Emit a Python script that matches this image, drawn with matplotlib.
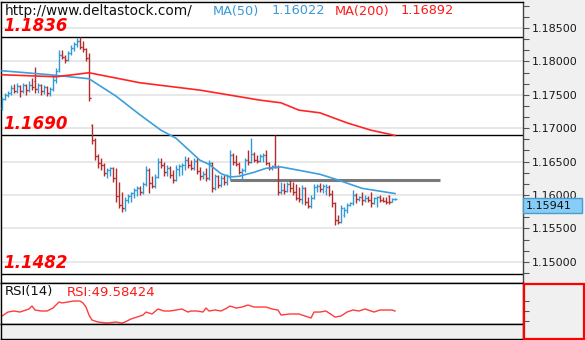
import numpy as np
import matplotlib
matplotlib.use("Agg")
import matplotlib.pyplot as plt
from matplotlib.ticker import MultipleLocator, FormatStrFormatter, FixedLocator, NullLocator
from matplotlib.transforms import blended_transform_factory
from matplotlib.patches import Rectangle

plt.rcParams['font.family'] = ['DejaVu Sans']

# EUR/USD daily bars: open / high / low / close
opens = [1.1730, 1.1744, 1.1750, 1.1752, 1.1760, 1.1756, 1.1763, 1.1755, 1.1764, 1.1757,
         1.1765, 1.1770, 1.1758, 1.1764, 1.1755, 1.1761, 1.1752, 1.1758, 1.1772, 1.1788,
         1.1810, 1.1807, 1.1802, 1.1812, 1.1820, 1.1826, 1.1830, 1.1822, 1.1818, 1.1805,
         1.1705, 1.1682, 1.1658, 1.1648, 1.1645, 1.1633, 1.1637, 1.1640, 1.1625, 1.1598,
         1.1585, 1.1580, 1.1593, 1.1599, 1.1603, 1.1608, 1.1611, 1.1604, 1.1617, 1.1638,
         1.1618, 1.1614, 1.1627, 1.1650, 1.1645, 1.1634, 1.1641, 1.1630, 1.1623, 1.1639,
         1.1643, 1.1645, 1.1653, 1.1645, 1.1641, 1.1651, 1.1636, 1.1628, 1.1632, 1.1625,
         1.1648, 1.1610, 1.1628, 1.1615, 1.1625, 1.1620, 1.1628, 1.1660, 1.1650, 1.1647,
         1.1635, 1.1637, 1.1652, 1.1650, 1.1662, 1.1653, 1.1651, 1.1658, 1.1660, 1.1648,
         1.1640, 1.1646, 1.1642, 1.1605, 1.1608, 1.1606, 1.1617, 1.1610, 1.1605, 1.1596,
         1.1594, 1.1610, 1.1590, 1.1583, 1.1596, 1.1612, 1.1614, 1.1609, 1.1606, 1.1612,
         1.1602, 1.1588, 1.1562, 1.1560, 1.1570, 1.1577, 1.1585, 1.1588, 1.1600, 1.1594,
         1.1597, 1.1592, 1.1595, 1.1593, 1.1588, 1.1595, 1.1597, 1.1592, 1.1591, 1.1598,
         1.1590, 1.1594]
highs = [1.1747, 1.1752, 1.1755, 1.1764, 1.1766, 1.1767, 1.1765, 1.1768, 1.1766, 1.1770,
         1.1775, 1.1791, 1.1768, 1.1766, 1.1765, 1.1763, 1.1762, 1.1778, 1.1790, 1.1817,
         1.1817, 1.1810, 1.1815, 1.1825, 1.1829, 1.1835, 1.1836, 1.1830, 1.1820, 1.1812,
         1.1707, 1.1685, 1.1662, 1.1655, 1.1648, 1.1640, 1.1642, 1.1642, 1.1640, 1.1620,
         1.1605, 1.1597, 1.1602, 1.1605, 1.1611, 1.1614, 1.1613, 1.1620, 1.1643, 1.1640,
         1.1628, 1.1631, 1.1655, 1.1655, 1.1650, 1.1645, 1.1643, 1.1638, 1.1645, 1.1646,
         1.1648, 1.1658, 1.1657, 1.1652, 1.1656, 1.1655, 1.1642, 1.1636, 1.1640, 1.1653,
         1.1650, 1.1632, 1.1630, 1.1630, 1.1630, 1.1632, 1.1667, 1.1663, 1.1660, 1.1650,
         1.1640, 1.1655, 1.1667, 1.1685, 1.1664, 1.1660, 1.1662, 1.1663, 1.1667, 1.1650,
         1.1645, 1.1690, 1.1645, 1.1620, 1.1618, 1.1620, 1.1622, 1.1620, 1.1617, 1.1612,
         1.1615, 1.1612, 1.1597, 1.1600, 1.1617, 1.1617, 1.1618, 1.1616, 1.1616, 1.1615,
         1.1607, 1.1590, 1.1570, 1.1585, 1.1582, 1.1588, 1.1590, 1.1607, 1.1603, 1.1599,
         1.1605, 1.1600, 1.1598, 1.1605, 1.1597, 1.1598, 1.1600, 1.1597, 1.1597, 1.1600,
         1.1596, 1.15948]
lows = [1.1727, 1.1742, 1.1746, 1.1749, 1.1752, 1.1753, 1.1746, 1.1752, 1.1750, 1.1754,
        1.1757, 1.1753, 1.1752, 1.1750, 1.1751, 1.1748, 1.1748, 1.1755, 1.1768, 1.1784,
        1.1803, 1.1798, 1.1800, 1.1809, 1.1816, 1.1822, 1.1818, 1.1814, 1.1800, 1.1740,
        1.1676, 1.1652, 1.1640, 1.1638, 1.1628, 1.1626, 1.1628, 1.1620, 1.1590, 1.1580,
        1.1574, 1.1576, 1.1588, 1.1590, 1.1595, 1.1598, 1.1600, 1.1602, 1.1614, 1.1603,
        1.1610, 1.1611, 1.1625, 1.1640, 1.1628, 1.1628, 1.1625, 1.1618, 1.1621, 1.1628,
        1.1630, 1.1638, 1.1640, 1.1637, 1.1638, 1.1632, 1.1622, 1.1624, 1.1621, 1.1623,
        1.1605, 1.1607, 1.1610, 1.1612, 1.1615, 1.1615, 1.1622, 1.1645, 1.1643, 1.1632,
        1.1622, 1.1634, 1.1645, 1.1648, 1.1650, 1.1648, 1.1649, 1.1650, 1.1645, 1.1637,
        1.1637, 1.1640, 1.1600, 1.1602, 1.1602, 1.1604, 1.1605, 1.1600, 1.1592, 1.1590,
        1.1586, 1.1585, 1.1580, 1.1580, 1.1594, 1.1605, 1.1605, 1.1603, 1.1600, 1.1598,
        1.1582, 1.1555, 1.1556, 1.1558, 1.1567, 1.1573, 1.1583, 1.1585, 1.1588, 1.1591,
        1.1585, 1.1589, 1.1590, 1.1582, 1.1586, 1.1582, 1.1590, 1.1589, 1.1586, 1.1587,
        1.1589, 1.1592]
closes = [1.1744, 1.1750, 1.1752, 1.1760, 1.1756, 1.1763, 1.1755, 1.1764, 1.1757, 1.1765,
          1.1762, 1.1758, 1.1764, 1.1755, 1.1761, 1.1752, 1.1758, 1.1772, 1.1786, 1.1810,
          1.1807, 1.1802, 1.1812, 1.1820, 1.1826, 1.1830, 1.1822, 1.1818, 1.1805, 1.1745,
          1.1682, 1.1658, 1.1648, 1.1645, 1.1633, 1.1637, 1.1640, 1.1625, 1.1598, 1.1585,
          1.1580, 1.1593, 1.1599, 1.1603, 1.1608, 1.1611, 1.1604, 1.1617, 1.1638, 1.1618,
          1.1614, 1.1627, 1.1650, 1.1645, 1.1634, 1.1641, 1.1630, 1.1623, 1.1639, 1.1643,
          1.1645, 1.1653, 1.1645, 1.1641, 1.1651, 1.1636, 1.1628, 1.1632, 1.1625, 1.1648,
          1.1610, 1.1628, 1.1615, 1.1625, 1.1620, 1.1628, 1.1660, 1.1650, 1.1647, 1.1635,
          1.1637, 1.1652, 1.1650, 1.1662, 1.1653, 1.1651, 1.1658, 1.1660, 1.1648, 1.1640,
          1.1643, 1.1642, 1.1605, 1.1608, 1.1606, 1.1617, 1.1610, 1.1605, 1.1596, 1.1594,
          1.1610, 1.1590, 1.1583, 1.1596, 1.1612, 1.1614, 1.1609, 1.1614, 1.1612, 1.1602,
          1.1588, 1.1562, 1.1560, 1.1580, 1.1578, 1.1585, 1.1588, 1.1600, 1.1594, 1.1597,
          1.1592, 1.1595, 1.1593, 1.1588, 1.1595, 1.1597, 1.1592, 1.1591, 1.1589, 1.1590,
          1.1594, 1.15941]

# moving averages, read at selected bars
ma50_idx = [0, 16, 29, 38, 46, 53, 58, 66, 69, 73, 76, 79, 84, 88, 93, 99, 106, 111, 120, 131]
ma50_val = [1.1786, 1.1780, 1.1774, 1.1748, 1.1720, 1.1697, 1.1685, 1.1652, 1.1646, 1.1632,
            1.1627, 1.1628, 1.1634, 1.1640, 1.1642, 1.1637, 1.1631, 1.1624, 1.1610, 1.16022]
ma200_idx = [0, 18, 29, 46, 66, 86, 93, 99, 106, 115, 123, 131]
ma200_val = [1.1780, 1.1777, 1.1783, 1.1768, 1.1757, 1.1742, 1.1738, 1.1727, 1.1723, 1.1708,
             1.1697, 1.16892]

# RSI(14)
rsi_idx = [0, 2, 4, 6, 8, 9, 10, 11, 13, 15, 17, 19, 20, 22, 24, 26, 27, 28, 29, 30,
           32, 35, 38, 40, 41, 43, 45, 47, 48, 50, 52, 54, 56, 58, 60, 62, 63, 65, 67, 68,
           69, 71, 73, 75, 76, 78, 80, 82, 84, 86, 88, 90, 92, 93, 96, 99, 101, 103, 104, 106,
           108, 109, 111, 113, 115, 117, 119, 121, 123, 124, 126, 128, 130, 131]
rsi_val = [39.4, 47.5, 49.6, 47.5, 51.6, 53.7, 59.8, 51.6, 49.6, 49.6, 55.7, 68.0, 66.0, 68.0,
           70.0, 70.0, 66.0, 57.7, 41.4, 31.2, 27.1, 25.1, 27.1, 25.1, 27.1, 33.3, 37.3, 41.4,
           47.5, 43.5, 53.7, 49.6, 49.6, 51.6, 53.7, 47.5, 49.6, 49.6, 47.5, 55.7, 49.6, 51.6,
           49.6, 55.7, 59.8, 55.7, 57.7, 61.8, 57.7, 57.7, 57.7, 53.7, 51.6, 41.4, 43.5, 43.5,
           39.4, 35.3, 47.5, 47.5, 49.6, 45.5, 37.3, 39.4, 47.5, 51.6, 49.6, 53.7, 49.6, 47.5,
           51.6, 51.6, 51.6, 49.58424]

levels = [1.1836, 1.1690, 1.1482]
gray_level = 1.1623
gray_span = (76, 146)

BLUE = '#2f9ad6'
RED = '#b52a2a'

W, H = 585, 340
fig = plt.figure(figsize=(W / 100, H / 100), dpi=100, facecolor='#f0f0f0')


def px_box(x0, y0, x1, y1):
    # pixel box measured from the top-left corner -> figure fraction rect
    return [x0 / W, 1 - y1 / H, (x1 - x0) / W, (y1 - y0) / H]


ax = fig.add_axes(px_box(1, 2, 523, 283))
rsi_ax = fig.add_axes(px_box(1, 283, 523, 324))
strip = fig.add_axes(px_box(1, 324, 523, 339))

o = np.array(opens)
h = np.array(highs)
l = np.array(lows)
c = np.array(closes)
idx = np.arange(len(c))
cols = np.where(c >= o, BLUE, RED)

ax.vlines(idx, l, h, colors=cols, lw=1.0, zorder=3)
ax.hlines(o, idx - 0.5, idx, colors=cols, lw=1.0, zorder=3)
ax.hlines(c, idx, idx + 0.5, colors=cols, lw=1.0, zorder=3)

ax.plot(ma50_idx, ma50_val, color='#3d9fdc', lw=1.2, zorder=4)
ax.plot(ma200_idx, ma200_val, color='#ff2525', lw=1.2, zorder=4)

for lv in levels:
    ax.axhline(lv, color='black', lw=1.0, zorder=2)
ax.hlines(gray_level, *gray_span, color='#7a7a7a', lw=2.2, zorder=2)

ax.set_xlim(-1 / 3, 521 / 3)
ax.set_ylim(1.14683, 1.18889)
ax.xaxis.set_major_locator(NullLocator())
ax.yaxis.tick_right()
ax.yaxis.set_major_locator(MultipleLocator(0.005))
ax.yaxis.set_minor_locator(MultipleLocator(0.005 / 3))
ax.yaxis.set_major_formatter(FormatStrFormatter('%.5f'))
ax.tick_params(axis='y', which='both', direction='out', length=4, width=0.8,
               color='#555555', labelsize=8, pad=2, labelcolor='#1a1a1a')
ax.yaxis.grid(True, which='major', color='#e6e6e6', lw=1.3)
ax.set_axisbelow(True)
for s in ax.spines.values():
    s.set_color('black')
    s.set_linewidth(1.0)
ax.spines['right'].set_color('#444444')

tr = blended_transform_factory(ax.transAxes, ax.transData)
for lv in levels:
    ax.annotate(f'{lv:.4f}', xy=(0, lv), xycoords=tr, xytext=(2, 6),
                textcoords='offset pixels', va='baseline', ha='left',
                fontsize=12, fontweight='bold', fontstyle='italic', color='#ff0000', zorder=6)

# last price box on the scale
last = closes[-1]
box_tr = blended_transform_factory(fig.transFigure, ax.transData)
ax.add_patch(Rectangle((523 / W, last - 0.0021), 59 / W, 0.00225, transform=box_tr,
                       facecolor='#87cdf5', edgecolor='#4a9bd0', lw=1.0,
                       clip_on=False, zorder=10))
ax.text(526 / W, last - 0.00098, f'{last:.5f}', transform=box_tr, fontsize=8,
        va='center', ha='left', color='#111111', clip_on=False, zorder=11)

# header line
fig.text(5 / W, 1 - 11 / H, 'http://www.deltastock.com/', fontsize=9.8, va='center', color='#111111')
fig.text(213 / W, 1 - 11 / H, 'MA(50)', fontsize=9.3, va='center', color='#3a98d6')
fig.text(272 / W, 1 - 11 / H, f'{ma50_val[-1]:.5f}', fontsize=9.3, va='center', color='#3a98d6')
fig.text(335 / W, 1 - 11 / H, 'MA(200)', fontsize=9.3, va='center', color='#ff1a1a')
fig.text(401 / W, 1 - 11 / H, f'{ma200_val[-1]:.5f}', fontsize=9.3, va='center', color='#ff1a1a')

# RSI pane
rsi_ax.plot(rsi_idx, rsi_val, color='#ff3b3b', lw=1.0)
rsi_ax.set_xlim(-1 / 3, 521 / 3)
rsi_ax.set_ylim(23.1, 106.7)
rsi_ax.xaxis.set_major_locator(NullLocator())
rsi_ax.yaxis.tick_right()
rsi_ax.yaxis.set_major_locator(FixedLocator([30, 50, 70]))
rsi_ax.tick_params(axis='y', direction='out', length=4, width=0.8, color='#555555', labelright=False)
for s in rsi_ax.spines.values():
    s.set_color('black')
    s.set_linewidth(1.0)
fig.text(5 / W, 1 - 292 / H, 'RSI(14)', fontsize=9.5, va='center', color='#111111')
fig.text(67 / W, 1 - 292 / H, f'RSI:{rsi_val[-1]:.5f}', fontsize=9.5, va='center', color='#ff1a1a')

strip.set_facecolor('#f0f0f0')
strip.set_xticks([])
strip.set_yticks([])
for s in strip.spines.values():
    s.set_color('black')
    s.set_linewidth(1.0)

fig.patches.append(Rectangle((523.5 / W, 1 - 339 / H), 60.5 / W, 55 / H, transform=fig.transFigure,
                             fill=False, edgecolor='#ff0000', lw=1.6))

fig.savefig('out.png', dpi=100, facecolor=fig.get_facecolor())
